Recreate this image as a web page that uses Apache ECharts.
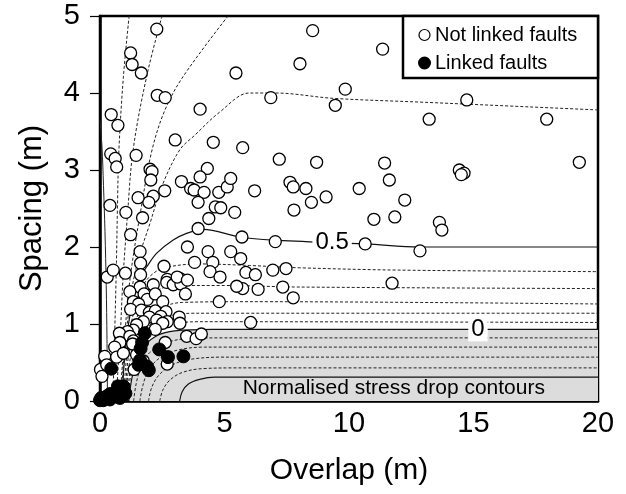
<!DOCTYPE html>
<html><head><meta charset="utf-8">
<script src="https://cdn.jsdelivr.net/npm/echarts@6/dist/echarts.min.js"></script>
<style>html,body{margin:0;padding:0;background:#fff}#c{width:626px;height:494px}</style>
</head><body><div id="c"></div>
<script>
// ---- data ----
const xTicks = [0, 5, 10, 15, 20];
const yTicks = [0, 1, 2, 3, 4, 5];
const seriesNames = ['Not linked faults', 'Linked faults'];

const notLinked = [
[2.28,4.83],[1.23,4.52],[1.29,4.37],[1.66,4.26],[2.30,3.97],[2.62,3.94],[5.46,4.26],[0.45,3.72],[0.72,3.58],[4.02,3.79],
[3.02,3.39],[4.55,3.36],[5.73,3.29],[8.54,4.81],[11.35,4.57],[8.03,4.38],[9.85,4.05],[6.86,3.94],[9.45,3.84],[14.73,3.91],
[13.22,3.66],[17.94,3.66],[0.43,3.21],[0.61,3.15],[0.67,3.04],[1.45,3.19],[2.01,3.01],[2.09,2.98],[2.04,2.87],[4.31,3.02],
[4.02,2.91],[3.27,2.85],[3.64,2.76],[3.78,2.74],[4.18,2.71],[4.77,2.71],[5.11,2.78],[5.25,2.89],[2.60,2.73],[2.14,2.66],
[1.96,2.58],[1.53,2.64],[0.40,2.54],[1.04,2.45],[1.71,2.38],[3.94,2.58],[4.63,2.52],[4.85,2.51],[5.41,2.45],[4.37,2.37],
[3.94,2.24],[5.70,2.13],[1.23,2.16],[3.51,2.00],[1.61,1.94],[4.34,1.94],[5.25,1.94],[5.65,1.85],[1.63,1.79],[2.57,1.75],
[3.80,1.80],[4.53,1.80],[4.42,1.68],[5.86,1.67],[1.63,1.64],[1.02,1.66],[0.29,1.61],[2.70,1.58],[3.21,1.59],[4.82,1.61],
[7.20,3.14],[8.70,3.10],[11.43,3.09],[11.62,2.87],[6.21,2.73],[7.63,2.84],[7.76,2.78],[8.27,2.76],[10.41,2.76],[9.08,2.65],
[8.49,2.58],[12.24,2.61],[7.79,2.48],[11.00,2.36],[11.84,2.39],[7.04,2.07],[10.65,2.04],[12.85,1.95],[7.47,1.72],[6.94,1.70],
[6.24,1.64],[19.25,3.10],[14.43,3.00],[14.62,2.96],[14.51,2.94],[13.63,2.32],[13.73,2.22],[11.73,1.53],[5.73,1.46],[6.35,1.45],
[7.34,1.48],[7.76,1.34],[6.05,1.02],[0.53,1.70],[1.61,1.48],[2.14,1.51],[2.68,1.54],[2.94,1.51],[3.25,1.52],[3.10,1.61],
[3.51,1.57],[5.49,1.49],[1.20,1.42],[1.77,1.39],[1.90,1.32],[2.22,1.39],[2.52,1.29],[3.43,1.39],[4.79,1.29],[1.34,1.29],
[1.55,1.26],[1.23,1.19],[1.66,1.18],[1.98,1.15],[2.22,1.17],[2.65,1.16],[2.44,1.10],[1.98,1.09],[2.28,1.05],[2.70,1.03],
[3.18,1.09],[3.21,1.01],[2.52,1.01],[1.74,1.03],[1.47,0.99],[2.22,0.93],[1.34,0.92],[1.10,0.90],[0.78,0.88],[1.20,0.84],
[0.80,0.76],[0.59,0.70],[3.48,0.84],[3.86,0.81],[4.07,0.87],[2.62,0.76],[1.34,0.78],[0.19,0.58],[0.67,0.57],[0.94,0.62],
[1.31,0.74],[1.37,0.41],[0.02,0.41],[1.47,0.60],[2.70,0.48],[1.74,0.52],[0.27,0.47],[0.08,0.32],[1.93,0.43]
];
const linked = [
[1.80,0.88],[1.69,0.76],[1.63,0.68],[2.38,0.67],[2.73,0.57],[3.35,0.58],[1.61,0.53],[1.55,0.47],[1.88,0.45],[1.96,0.40],
[0.45,0.42],[0.72,0.19],[0.94,0.19],[1.02,0.10],[0.67,0.12],[0.40,0.09],[0.27,0.06],[0.05,0.04],[0.13,0.01],[0.0,0.01],
[0.61,0.06],[0.40,0.02],[0.80,0.04]
];

// stress-drop contours (overlap, spacing)
const contourAxis = [[0.0,3.65],[0.08,3.3],[0.14,2.8],[0.2,2.2],[0.25,1.5],[0.28,0.8],[0.3,0]];
const contourFan1 = [[1.17,5],[0.94,4.21],[0.76,3.26],[0.7,2.5],[0.66,1.8],[0.6,1.0],[0.55,0.4],[0.5,0]];
const contourFan2 = [[2.49,5],[1.87,4.21],[1.33,3.26],[1.1,2.4],[0.92,1.57],[0.82,0.9],[0.72,0.4],[0.65,0]];
const contourFan3 = [[5.14,5],[3.33,4.21],[2.61,3.78],[2.09,3.26],[1.65,2.5],[1.2,1.57],[0.98,0.8],[0.86,0.3],[0.8,0]];
const contourFan4 = [[20,3.78],[13,3.88],[9.4,3.93],[7,4.0],[6.0,4.0],[4.8,3.75],[3.8,3.45],[3.2,3.26],[2.5,2.8],[2.0,2.3],[1.55,1.85],[1.25,1.4],[1.05,0.85],[0.92,0.4],[0.85,0]];
const contourHalf = [[0.9,0],[0.95,0.4],[1.08,0.85],[1.25,1.2],[1.42,1.45],[1.61,1.61],[1.87,1.74],[2.28,1.92],[2.94,2.09],[3.5,2.18],[4.14,2.23],[5.62,2.13],[6.95,2.09],[10.68,2.04],[12.85,2.0],[20,2.0]];
const contourW1 = [[0.95,0],[1.02,0.4],[1.15,0.8],[1.35,1.15],[1.6,1.42],[1.95,1.6],[2.5,1.72],[4,1.78],[6,1.76],[8,1.73],[12,1.70],[20,1.68]];
const contourW2 = [[1.0,0],[1.08,0.4],[1.22,0.75],[1.45,1.05],[1.75,1.28],[2.2,1.42],[3.0,1.5],[5,1.50],[8,1.48],[20,1.46]];
const contourW3 = [[1.04,0],[1.12,0.35],[1.3,0.68],[1.55,0.93],[1.9,1.1],[2.5,1.22],[3.3,1.28],[6,1.29],[20,1.26]];
const contourW4 = [[1.08,0],[1.17,0.3],[1.36,0.6],[1.65,0.84],[2.05,1.0],[2.7,1.1],[3.8,1.14],[20,1.14]];
const contourW5 = [[1.12,0],[1.21,0.28],[1.4,0.55],[1.72,0.77],[2.2,0.92],[2.9,1.0],[4.0,1.03],[20,1.02]];
const contourZero = [[1.16,0],[1.26,0.26],[1.46,0.52],[1.8,0.72],[2.3,0.85],[3.0,0.91],[4.5,0.93],[20,0.93]];
const contourG1 = [[1.35,0],[1.45,0.22],[1.65,0.45],[2.0,0.63],[2.6,0.75],[3.5,0.81],[5,0.82],[20,0.82]];
const contourG2 = [[1.6,0],[1.72,0.2],[1.95,0.4],[2.4,0.56],[3.1,0.66],[4.2,0.70],[20,0.70]];
const contourG3 = [[1.95,0],[2.07,0.17],[2.35,0.33],[2.85,0.46],[3.6,0.54],[5,0.57],[20,0.57]];
const contourG4 = [[2.4,0],[2.52,0.14],[2.8,0.27],[3.3,0.37],[4.1,0.42],[5.5,0.43],[20,0.43]];
const contourBox = [[3.2,0],[3.3,0.12],[3.55,0.22],[4.0,0.28],[4.6,0.31],[20,0.31]];

const contourLabels = [[9.32,2.06,'0.5'],[15.18,0.93,'0']];
const noteText = [[11.8,0.165,'Normalised stress drop contours']];

// ---- chart ----
const FONT = '"Liberation Sans", Arial, sans-serif';
const chart = echarts.init(document.getElementById('c'), null, {renderer:'canvas'});
const dashed = {color:'#222', width:1, type:[3,2]};
const solid = {color:'#111', width:1.2, type:'solid'};
function contour(data, style, extra){
  return Object.assign({type:'line', data:data, smooth:0.35, showSymbol:false, symbol:'none', silent:true,
    lineStyle:style, z:2, clip:true, animation:false}, extra||{});
}
const series = [
  contour(contourZero, solid, {areaStyle:{color:'#dcdcdc', origin:'start', opacity:1}, z:1}),
  contour(contourAxis, {color:'#222', width:1}),
  contour(contourFan1, dashed), contour(contourFan2, dashed), contour(contourFan3, dashed), contour(contourFan4, dashed),
  contour(contourHalf, solid),
  contour(contourW1, dashed), contour(contourW2, dashed), contour(contourW3, dashed), contour(contourW4, dashed), contour(contourW5, dashed),
  contour(contourG1, dashed), contour(contourG2, dashed), contour(contourG3, dashed), contour(contourG4, dashed),
  contour(contourBox, solid),
  {type:'scatter', name:seriesNames[0], data:notLinked, symbol:'circle', symbolSize:12, z:5, animation:false,
    itemStyle:{color:'#fff', borderColor:'#000', borderWidth:1.3, opacity:1}},
  {type:'scatter', name:seriesNames[1], data:linked, symbol:'circle', symbolSize:13, z:6, animation:false,
    itemStyle:{color:'#000', borderColor:'#000', borderWidth:1, opacity:1}},
  {type:'scatter', data:contourLabels, symbolSize:1, z:7, silent:true, animation:false,
    itemStyle:{opacity:1, color:'rgba(0,0,0,0)'},
    label:{show:true, position:'inside', formatter:p=>p.value[2], color:'#000', opacity:1, fontFamily:FONT, fontSize:24,
      backgroundColor:'#fff', padding:[0,3]}},
  {type:'scatter', data:noteText, symbolSize:1, z:7, silent:true, animation:false,
    itemStyle:{opacity:1, color:'rgba(0,0,0,0)'},
    label:{show:true, position:'inside', formatter:p=>p.value[2], color:'#000', opacity:1, fontFamily:FONT, fontSize:21}}
];

chart.setOption({
  animation:false,
  backgroundColor:'#fff',
  grid:{left:100, right:28, top:16, bottom:93, show:true, borderColor:'#000', borderWidth:2.5, backgroundColor:'transparent'},
  xAxis:{type:'value', min:0, max:20, interval:5, splitLine:{show:false},
    axisLine:{show:true, lineStyle:{color:'#000', width:2.5}}, axisTick:{show:false},
    axisLabel:{color:'#000', fontSize:29, fontFamily:FONT, margin:8, formatter:v=>xTicks.includes(v)?String(v):''},
    name:'Overlap (m)', nameLocation:'middle', nameGap:55, nameTextStyle:{color:'#000', fontSize:30, fontFamily:FONT}},
  yAxis:{type:'value', min:0, max:5, interval:1, splitLine:{show:false},
    axisLine:{show:true, lineStyle:{color:'#000', width:2.5}},
    axisTick:{show:true, length:10, lineStyle:{color:'#000', width:1.2}},
    axisLabel:{color:'#000', fontSize:29, fontFamily:FONT, margin:20, formatter:v=>yTicks.includes(v)?String(v):''},
    name:'Spacing (m)', nameLocation:'middle', nameGap:52, nameTextStyle:{color:'#000', fontSize:31, fontFamily:FONT}},
  legend:{data:[{name:seriesNames[0], itemStyle:{color:'#fff', borderColor:'#000', borderWidth:1.2}},
                {name:seriesNames[1], itemStyle:{color:'#000'}}],
    orient:'vertical', left:413, top:20, itemGap:8, itemWidth:11, itemHeight:11, icon:'circle', z:20,
    textStyle:{color:'#000', fontSize:20, fontFamily:FONT}},
  graphic:[{type:'rect', z:15, shape:{x:403, y:16, width:195, height:62}, style:{fill:'#fff', stroke:'#000', lineWidth:2.5}}],
  series:series
});
</script></body></html>
